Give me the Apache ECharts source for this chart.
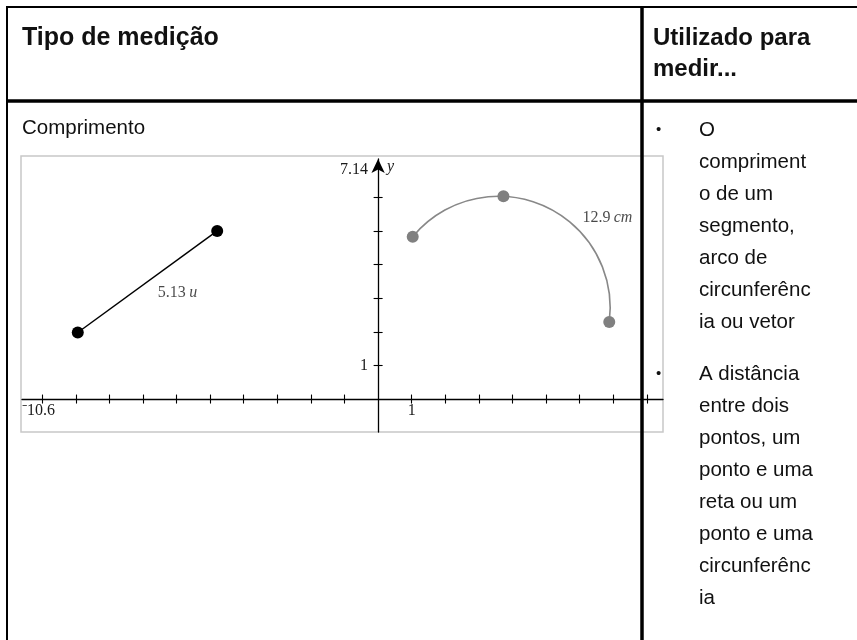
<!DOCTYPE html>
<html><head><meta charset="utf-8">
<script src="https://cdn.jsdelivr.net/npm/echarts@6/dist/echarts.min.js"></script>
<style>html,body{margin:0;padding:0;background:#fff}#c{width:857px;height:640px}</style>
</head><body><div id="c"></div>
<script>
// ---- texts ----
const headerLeft = 'Tipo de medição';
const headerRight = ['Utilizado para', 'medir...'];
const rowLabel = 'Comprimento';
const bullet1 = ['O', 'compriment', 'o de um', 'segmento,', 'arco de', 'circunferênc', 'ia ou vetor'];
const bullet2 = ['A distância', 'entre dois', 'pontos, um', 'ponto e uma', 'reta ou um', 'ponto e uma', 'circunferênc', 'ia'];

// ---- graph axes ----
const xRange = [-10.6, 8.48];
const yRange = [-0.98, 7.14];
const xTicks = [-10, -9, -8, -7, -6, -5, -4, -3, -2, -1, 1, 2, 3, 4, 5, 6, 7, 8];
const yTicks = [1, 2, 3, 4, 5, 6];
const xLabelValues = [1];
const xEdgeLabelValues = [-10.6];
const yLabelValues = [1, 7.14];

// ---- graph objects ----
const segmentPoints = [[-8.94, 1.98], [-4.79, 5.0]];
const segmentLength = '5.13';
const segmentUnit = 'u';
const arcPoints = [[1.03, 4.83], [3.73, 6.03], [6.88, 2.29]];
const arcLength = '12.9';
const arcUnit = 'cm';

const SANS = 'Liberation Sans, Arial, sans-serif';
const SERIF = 'Liberation Serif, Times New Roman, serif';

const chart = echarts.init(document.getElementById('c'), null, {renderer: 'canvas'});

// grid box (pixels)
const G = {l: 22, r: 663, t: 159, b: 432};
const x0px = G.l + (0 - xRange[0]) / (xRange[1] - xRange[0]) * (G.r - G.l);
const y0px = G.b - (0 - yRange[0]) / (yRange[1] - yRange[0]) * (G.b - G.t);

const graphic = [];
graphic.push({type: 'rect', z: 0, shape: {x: 21, y: 156, width: 642, height: 276},
  style: {fill: 'none', stroke: '#c8c8c8', lineWidth: 1.5}});
graphic.push({type: 'line', z: 100, shape: {x1: 6, y1: 7, x2: 857, y2: 7}, style: {stroke: '#000', lineWidth: 2}});
graphic.push({type: 'line', z: 100, shape: {x1: 7, y1: 6, x2: 7, y2: 640}, style: {stroke: '#000', lineWidth: 2}});
graphic.push({type: 'line', z: 100, shape: {x1: 6, y1: 101, x2: 857, y2: 101}, style: {stroke: '#000', lineWidth: 3.5}});
graphic.push({type: 'line', z: 100, shape: {x1: 642, y1: 6, x2: 642, y2: 640}, style: {stroke: '#000', lineWidth: 3.5}});

function txt(t, x, y, font, align) {
  return {type: 'text', z: 100, x: x, y: y,
    style: {text: t, font: font, fill: '#111', align: align || 'left', verticalAlign: 'middle',
      textAlign: align || 'left', textVerticalAlign: 'middle'}};
}
graphic.push(txt(headerLeft, 22, 38, 'bold 25px ' + SANS));
headerRight.forEach((t, i) => graphic.push(txt(t, 653, 38 + i * 31, 'bold 24px ' + SANS)));
graphic.push(txt(rowLabel, 22, 128, '20.5px ' + SANS));
graphic.push(txt('•', 656, 130, '15px ' + SANS));
bullet1.forEach((t, i) => graphic.push(txt(t, 699, 130 + i * 32, '20.5px ' + SANS)));
graphic.push(txt('•', 656, 374, '15px ' + SANS));
bullet2.forEach((t, i) => graphic.push(txt(t, 699, 374 + i * 32, '20.5px ' + SANS)));

const axisLabelStyle = {fontFamily: SERIF, fontSize: 16, color: '#1a1a1a'};

function circumArc(p) {
  const [a, b, c] = p;
  const d = 2 * (a[0] * (b[1] - c[1]) + b[0] * (c[1] - a[1]) + c[0] * (a[1] - b[1]));
  const s = q => q[0] * q[0] + q[1] * q[1];
  const ux = (s(a) * (b[1] - c[1]) + s(b) * (c[1] - a[1]) + s(c) * (a[1] - b[1])) / d;
  const uy = (s(a) * (c[0] - b[0]) + s(b) * (a[0] - c[0]) + s(c) * (b[0] - a[0])) / d;
  const r = Math.hypot(a[0] - ux, a[1] - uy);
  const ang = q => Math.atan2(q[1] - uy, q[0] - ux);
  const sa = ang(a), ma = ang(b), ea = ang(c);
  const norm = v => { while (v < 0) v += 2 * Math.PI; while (v >= 2 * Math.PI) v -= 2 * Math.PI; return v; };
  const cw = norm(ma - sa) < norm(ea - sa);
  return {cx: ux, cy: uy, r: r, startAngle: sa, endAngle: ea, clockwise: cw};
}

const segMid = [(segmentPoints[0][0] + segmentPoints[1][0]) / 2, (segmentPoints[0][1] + segmentPoints[1][1]) / 2];
const lineSt = {color: '#000', width: 1.3};
const tickSt = {color: '#000', width: 1.1};

const option = {
  animation: false,
  graphic: graphic,
  grid: {left: G.l, right: 857 - G.r, top: G.t, bottom: 640 - G.b, containLabel: false, outerBoundsMode: 'none'},
  xAxis: [
    {type: 'value', min: xRange[0], max: xRange[1], position: 'bottom', offset: -(G.b - y0px),
      axisLine: {show: true, onZero: false, lineStyle: lineSt},
      axisTick: {show: true, customValues: xTicks, length: 4.5, lineStyle: tickSt},
      axisLabel: Object.assign({customValues: xLabelValues, margin: 4}, axisLabelStyle),
      splitLine: {show: false}},
    {type: 'value', min: xRange[0], max: xRange[1], position: 'top', offset: -(y0px - G.t),
      axisLine: {show: false, onZero: false},
      axisTick: {show: true, customValues: xTicks, length: 4.5, lineStyle: tickSt},
      axisLabel: Object.assign({customValues: xEdgeLabelValues, inside: true, margin: 4, align: 'left',
        formatter: v => '⁻' + Math.abs(v)}, axisLabelStyle),
      splitLine: {show: false}}
  ],
  yAxis: [
    {type: 'value', min: yRange[0], max: yRange[1], position: 'left', offset: -(x0px - G.l),
      name: 'y', nameLocation: 'end', nameGap: 0, nameMoveOverlap: false,
      nameTextStyle: {fontFamily: SERIF, fontStyle: 'italic', fontSize: 16, color: '#1a1a1a',
        align: 'left', verticalAlign: 'top', padding: [0, 0, 0, 9]},
      axisLine: {show: true, onZero: false, symbol: ['none', 'arrow'], symbolSize: [10, 14], lineStyle: lineSt},
      axisTick: {show: true, customValues: yTicks, length: 4.5, lineStyle: tickSt},
      axisLabel: Object.assign({customValues: yLabelValues, margin: 10,
        formatter: v => v === yRange[1] ? '{t|' + v + '}' : '{n|' + v + '}',
        rich: {t: Object.assign({padding: [22, 0, 0, 0]}, axisLabelStyle), n: axisLabelStyle}}, axisLabelStyle),
      splitLine: {show: false}},
    {type: 'value', min: yRange[0], max: yRange[1], position: 'right', offset: -(G.r - x0px),
      axisLine: {show: false, onZero: false},
      axisTick: {show: true, customValues: yTicks, length: 4.5, lineStyle: tickSt},
      axisLabel: {show: false},
      splitLine: {show: false}}
  ],
  series: [
    {type: 'line', name: 'segment', data: segmentPoints, z: 5,
      lineStyle: {color: '#000', width: 1.5}, itemStyle: {color: '#000'},
      symbol: 'circle', symbolSize: 12, showAllSymbol: true},
    {type: 'scatter', data: [segMid], symbolSize: 0, z: 6, silent: true,
      label: {show: true, position: 'inside', offset: [30, 11],
        formatter: '{n|' + segmentLength + '} {u|' + segmentUnit + '}',
        rich: {n: axisLabelStyle, u: Object.assign({fontStyle: 'italic'}, axisLabelStyle)}}},
    {type: 'custom', z: 4, data: [arcPoints[0]], silent: true,
      renderItem: function (params, api) {
        const px = arcPoints.map(p => api.coord(p));
        return {type: 'arc', shape: circumArc(px), style: {stroke: '#888', fill: null, lineWidth: 1.6}};
      }},
    {type: 'scatter', data: arcPoints, z: 6, symbol: 'circle', symbolSize: 12,
      itemStyle: {color: '#808080', opacity: 1}},
    {type: 'scatter', data: [arcPoints[1]], symbolSize: 0, z: 6, silent: true,
      label: {show: true, position: 'inside', offset: [104, 21],
        formatter: '{n|' + arcLength + '} {u|' + arcUnit + '}',
        rich: {n: axisLabelStyle, u: Object.assign({fontStyle: 'italic'}, axisLabelStyle)}}}
  ]
};
chart.setOption(option);
</script>
</body></html>
